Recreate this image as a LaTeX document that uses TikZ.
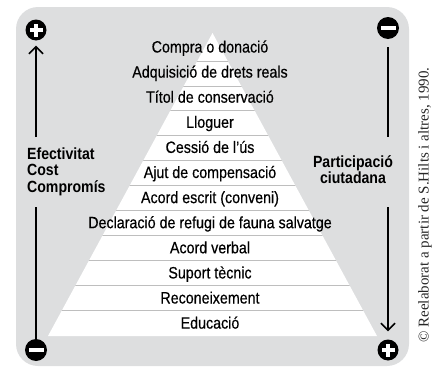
\documentclass[tikz,border=0pt]{standalone}
\usepackage{fontspec}
\setmainfont{Liberation Sans}[FakeStretch=0.87]
\newfontfamily\rowfont{Liberation Sans}[FakeStretch=0.87, FakeBold=0.4]
\newfontfamily\notefont{Liberation Serif}
\usetikzlibrary{arrows.meta}

\definecolor{panelgray}{RGB}{221,222,223}
\definecolor{rulegray}{RGB}{190,190,190}

\tikzset{
  rowtext/.style={anchor=base, inner sep=0pt, font=\rowfont\fontsize{16.4}{18}\selectfont},
  sidetext/.style={anchor=base west, inner sep=0pt, font=\bfseries\fontsize{16.2}{18}\selectfont},
  pluscirc/.style={circle, fill=black, minimum size=21pt, inner sep=0pt,
    path picture={
      \fill[white] (path picture bounding box.center) ++(-6.5pt,-2.3pt) rectangle ++(13pt,4.6pt);
      \fill[white] (path picture bounding box.center) ++(-2.3pt,-6.5pt) rectangle ++(4.6pt,13pt);}},
  minuscirc/.style={circle, fill=black, minimum size=22pt, inner sep=0pt,
    path picture={
      \fill[white] (path picture bounding box.center) ++(-7.5pt,-2.2pt) rectangle ++(15pt,4.4pt);}},
  axisline/.style={line width=1.6pt},
  axisarrow/.style={line width=1.6pt, -{Straight Barb[length=7pt,width=14pt]}}
}

\begin{document}
\begin{tikzpicture}[x=1pt,y=-1pt]
\useasboundingbox (0,0) rectangle (432,367);

% panel
\fill[panelgray, rounded corners=22pt] (16,7) rectangle (409,366);

% pyramid
\fill[white] (212.5,33) -- (377,336) -- (48,336) -- cycle;
\begin{scope}
  \clip (212.5,33) -- (377,336) -- (48,336) -- cycle;
  \foreach \k in {0,...,10}
    \draw[rulegray, line width=0.8pt] (40,61+24.9*\k) -- (385,61+24.9*\k);
\end{scope}

\foreach \txt [count=\i from 0] in {Compra o donació, Adquisició de drets reals,
    Títol de conservació, Lloguer, Cessió de l’ús, Ajut de compensació,
    Acord escrit (conveni), Declaració de refugi de fauna salvatge, Acord verbal,
    Suport tècnic, Reconeixement, Educació}
  \node[rowtext] (row\i) at (210,52.5+25.1*\i) {\txt};

% side labels
\node[sidetext] (eff) at (27,159) {Efectivitat};
\node[sidetext] (cost) at (27,175.5) {Cost};
\node[sidetext] (comp) at (27,192) {Compromís};
\node[sidetext, anchor=base] (part) at (353,167) {Participació};
\node[sidetext, anchor=base] (ciut) at (353,183) {ciutadana};

% plus and minus ends
\node[pluscirc] (ltop) at (36,30) {};
\node[minuscirc] (lbot) at (36,350) {};
\node[minuscirc] (rtop) at (388,28) {};
\node[pluscirc] (rbot) at (388,350) {};
\coordinate (lup) at (36,137);
\coordinate (ldown) at (36,207);
\coordinate (rup) at (388,137);
\coordinate (rdown) at (388,207);

\draw[axisarrow, shorten >=5pt] (lup) -- (ltop);
\draw[axisline] (ldown) -- (lbot);
\draw[axisline, shorten <=8pt] (rtop) -- (rup);
\draw[axisarrow, shorten >=8pt] (rdown) -- (rbot);

% source
\node[rotate=90, inner sep=0pt, text=black!85, font=\notefont\fontsize{15}{18}\selectfont]
  (credit) at (425,205) {© Reelaborat a partir de S.Hilts i altres, 1990.};
\end{tikzpicture}
\end{document}
